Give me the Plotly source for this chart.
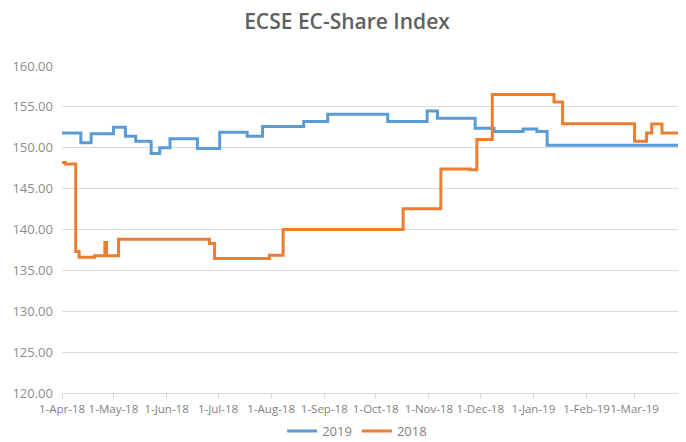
import plotly.graph_objects as go

# Change-point data (date where a new level starts, level value)
dates_2019 = ["2018-04-01", "2018-04-12", "2018-04-18", "2018-05-01", "2018-05-08",
              "2018-05-14", "2018-05-23", "2018-05-28", "2018-06-03", "2018-06-19",
              "2018-07-02", "2018-07-18", "2018-07-27", "2018-08-20", "2018-09-03",
              "2018-10-08", "2018-10-31", "2018-11-06", "2018-11-28", "2018-12-09",
              "2018-12-26", "2019-01-03", "2019-01-09", "2019-03-31"]
values_2019 = [151.8, 150.6, 151.7, 152.5, 151.4,
               150.8, 149.3, 150.0, 151.1, 149.9,
               151.9, 151.4, 152.6, 153.2, 154.1,
               153.2, 154.5, 153.6, 152.4, 152.0,
               152.3, 152.0, 150.3, 150.3]

dates_2018 = ["2018-04-01", "2018-04-03", "2018-04-09", "2018-04-11", "2018-04-20",
              "2018-04-26", "2018-04-27", "2018-05-04", "2018-06-26", "2018-06-29",
              "2018-07-31", "2018-08-08", "2018-10-17", "2018-11-08", "2018-11-25",
              "2018-11-29", "2018-12-08", "2019-01-13", "2019-01-18", "2019-03-01",
              "2019-03-08", "2019-03-11", "2019-03-17", "2019-03-31"]
values_2018 = [148.2, 148.0, 137.3, 136.6, 136.8,
               138.4, 136.8, 138.8, 138.3, 136.45,
               136.85, 140.0, 142.55, 147.4, 147.3,
               151.0, 156.5, 155.6, 152.95, 150.8,
               151.8, 152.9, 151.8, 151.8]

tick_dates = ["2018-04-01", "2018-05-01", "2018-06-01", "2018-07-01", "2018-08-01",
              "2018-09-01", "2018-10-01", "2018-11-01", "2018-12-01", "2019-01-01",
              "2019-02-01", "2019-03-01"]
tick_labels = ["1-Apr-18", "1-May-18", "1-Jun-18", "1-Jul-18", "1-Aug-18", "1-Sep-18",
               "1-Oct-18", "1-Nov-18", "1-Dec-18", "1-Jan-19", "1-Feb-19", "1-Mar-19"]

FONT = "Open Sans"

fig = go.Figure()
fig.add_trace(go.Scatter(x=dates_2019, y=values_2019, name="2019", mode="lines",
                         line=dict(color="#5B9BD5", width=3, shape="hv")))
fig.add_trace(go.Scatter(x=dates_2018, y=values_2018, name="2018", mode="lines",
                         line=dict(color="#ED7D31", width=3, shape="hv")))

# the page body has an 8px margin, so the figure is sized to fit the window
fig.update_layout(
    width=678, height=434,
    margin=dict(l=54, r=0, t=58, b=49, autoexpand=False),
    paper_bgcolor="white", plot_bgcolor="white",
    font=dict(family=FONT, color="#7f7f7f"),
    title=dict(text="ECSE EC-Share Index", x=0.5, xanchor="center", y=0.968, yanchor="middle",
               font=dict(family=FONT, size=21, color="#5f5f5f", weight=600)),
    showlegend=True,
    legend=dict(orientation="h", x=0.473, xanchor="center", y=-0.116, yanchor="middle",
                font=dict(size=13, color="#7f7f7f"), itemwidth=30, tracegroupgap=0),
    xaxis=dict(type="date", range=["2018-04-01", "2019-03-31"], automargin=False,
               tickmode="array", tickvals=tick_dates, ticktext=tick_labels,
               tickangle=0,
               showgrid=False, showline=True, linecolor="#d9d9d9", linewidth=1,
               ticks="outside", ticklen=5, tickcolor="#d9d9d9",
               tickfont=dict(size=11.5, color="#7f7f7f"), zeroline=False),
    yaxis=dict(range=[120, 160], dtick=5, tickformat=".2f", automargin=False,
               showgrid=True, gridcolor="#d9d9d9", gridwidth=1,
               showline=False, zeroline=False, ticks="", ticklen=0,
               ticklabelstandoff=8,
               tickfont=dict(size=13, color="#8c8c8c")),
)

fig.write_html("out.html")
